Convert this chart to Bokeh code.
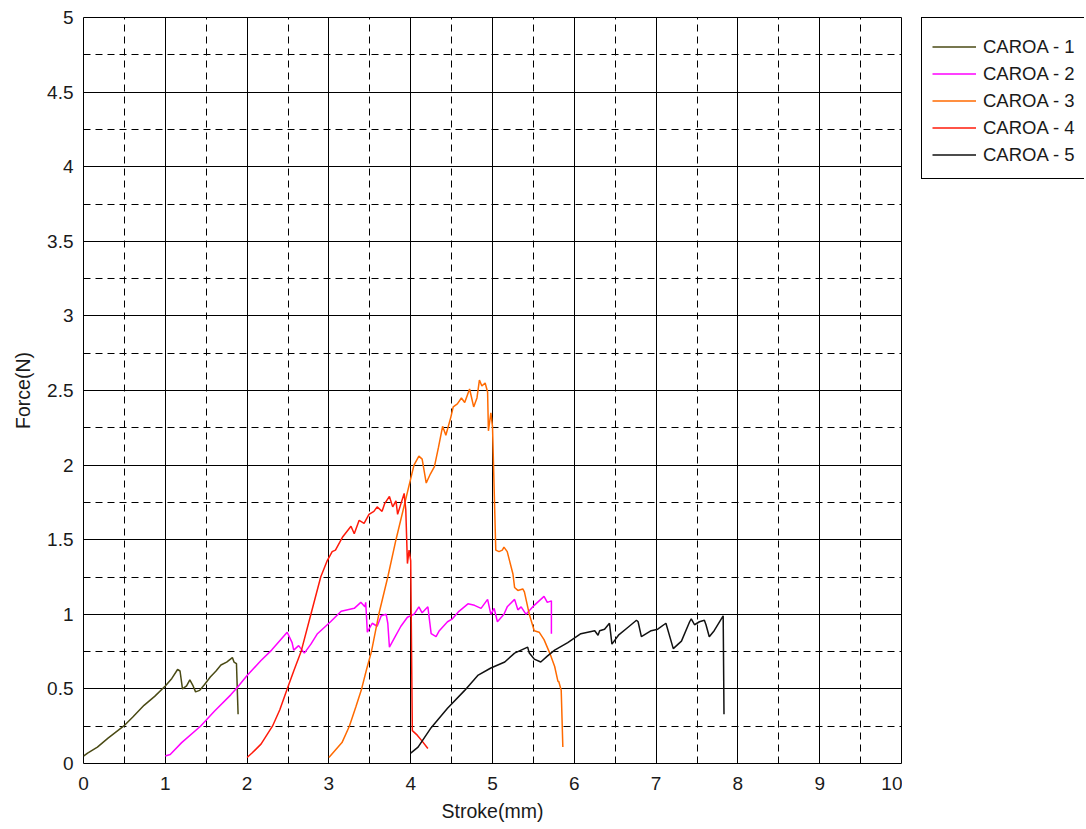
from bokeh.plotting import figure
from bokeh.layouts import row
from bokeh.models import (Range1d, SingleIntervalTicker, CustomJSTickFormatter,
                          Legend, LegendItem)
from bokeh.embed import file_html
from bokeh.resources import INLINE

# ---------------- data ----------------
series_names = ["CAROA - 1", "CAROA - 2", "CAROA - 3", "CAROA - 4", "CAROA - 5"]

x1 = [0.0, 0.05, 0.17, 0.30, 0.49, 0.60, 0.74, 0.87, 1.00, 1.08, 1.15, 1.18, 1.21, 1.26,
      1.30, 1.34, 1.37, 1.42, 1.48, 1.55, 1.62, 1.68, 1.75, 1.82, 1.84, 1.87, 1.89]
y1 = [0.05, 0.07, 0.11, 0.17, 0.25, 0.31, 0.39, 0.45, 0.52, 0.57, 0.63, 0.62, 0.50, 0.52,
      0.56, 0.52, 0.48, 0.49, 0.53, 0.58, 0.62, 0.66, 0.68, 0.71, 0.68, 0.67, 0.33]

x2 = [1.00, 1.06, 1.20, 1.43, 1.60, 1.80, 1.88, 2.00, 2.17, 2.30, 2.49, 2.55, 2.57, 2.63,
      2.70, 2.78, 2.86, 3.02, 3.15, 3.31, 3.39, 3.44, 3.45, 3.47, 3.53, 3.59, 3.64, 3.70,
      3.72, 3.74, 3.81, 3.88, 3.96, 4.04, 4.10, 4.14, 4.21, 4.25, 4.31, 4.35, 4.45, 4.51,
      4.59, 4.70, 4.78, 4.86, 4.94, 4.98, 5.02, 5.06, 5.14, 5.18, 5.27, 5.31, 5.35, 5.41,
      5.51, 5.63, 5.67, 5.72, 5.72]
y2 = [0.05, 0.06, 0.14, 0.25, 0.35, 0.46, 0.51, 0.59, 0.69, 0.76, 0.88, 0.81, 0.76, 0.79,
      0.74, 0.80, 0.87, 0.95, 1.02, 1.04, 1.08, 1.05, 1.08, 0.88, 0.94, 0.92, 0.99, 1.00,
      0.94, 0.78, 0.85, 0.92, 0.98, 1.00, 1.05, 1.01, 1.05, 0.87, 0.85, 0.89, 0.95, 0.97,
      1.02, 1.07, 1.06, 1.04, 1.10, 1.00, 1.04, 0.95, 1.00, 1.05, 1.10, 1.03, 1.05, 1.00,
      1.06, 1.12, 1.08, 1.09, 0.87]

x3 = [3.00, 3.08, 3.16, 3.25, 3.33, 3.40, 3.46, 3.52, 3.61, 3.72, 3.82, 3.93, 4.04, 4.10,
      4.14, 4.19, 4.24, 4.29, 4.34, 4.39, 4.43, 4.49, 4.52, 4.57, 4.62, 4.66, 4.72, 4.77,
      4.81, 4.84, 4.87, 4.91, 4.94, 4.95, 4.98, 5.00, 5.04, 5.08, 5.12, 5.14, 5.18, 5.25,
      5.27, 5.31, 5.37, 5.39, 5.45, 5.51, 5.57, 5.63, 5.70, 5.76, 5.80, 5.81, 5.84, 5.86]
y3 = [0.04, 0.09, 0.14, 0.25, 0.38, 0.50, 0.63, 0.75, 1.00, 1.25, 1.50, 1.75, 2.00, 2.06,
      2.04, 1.88, 1.94, 1.99, 2.12, 2.26, 2.20, 2.32, 2.39, 2.41, 2.45, 2.42, 2.51, 2.39,
      2.45, 2.57, 2.53, 2.55, 2.49, 2.23, 2.35, 2.26, 1.43, 1.42, 1.43, 1.45, 1.42, 1.27,
      1.18, 1.16, 1.17, 1.15, 1.00, 0.89, 0.88, 0.83, 0.74, 0.65, 0.55, 0.55, 0.49, 0.11]

x4 = [2.00, 2.06, 2.17, 2.31, 2.40, 2.49, 2.57, 2.66, 2.78, 2.90, 2.98, 3.04, 3.08, 3.17,
      3.27, 3.31, 3.37, 3.43, 3.49, 3.55, 3.59, 3.65, 3.68, 3.74, 3.78, 3.82, 3.84, 3.88,
      3.92, 3.94, 3.96, 3.98, 4.00, 4.02, 4.08, 4.14, 4.21]
y4 = [0.04, 0.07, 0.13, 0.25, 0.36, 0.50, 0.62, 0.75, 1.00, 1.25, 1.36, 1.42, 1.43, 1.52,
      1.59, 1.54, 1.63, 1.61, 1.67, 1.69, 1.72, 1.69, 1.74, 1.79, 1.72, 1.76, 1.67, 1.74,
      1.81, 1.70, 1.34, 1.43, 1.36, 0.22, 0.19, 0.15, 0.10]

x5 = [4.00, 4.09, 4.25, 4.45, 4.66, 4.82, 4.98, 5.15, 5.27, 5.43, 5.45, 5.51, 5.59, 5.67,
      5.76, 5.92, 6.08, 6.25, 6.29, 6.31, 6.37, 6.43, 6.46, 6.54, 6.65, 6.76, 6.78, 6.82,
      6.94, 7.02, 7.12, 7.21, 7.31, 7.41, 7.43, 7.47, 7.53, 7.59, 7.61, 7.65, 7.71, 7.82, 7.83]
y5 = [0.07, 0.11, 0.24, 0.37, 0.49, 0.59, 0.64, 0.68, 0.74, 0.78, 0.74, 0.70, 0.68, 0.72,
      0.76, 0.81, 0.87, 0.89, 0.86, 0.89, 0.90, 0.94, 0.80, 0.86, 0.91, 0.96, 0.95, 0.85,
      0.89, 0.90, 0.94, 0.77, 0.82, 0.95, 0.97, 0.93, 0.95, 0.96, 0.93, 0.85, 0.89, 0.99, 0.33]

colors = ["#4a4a14", "#ff00ff", "#ff6a00", "#ff1a0a", "#111111"]

# ---------------- main plot ----------------
FONT = "Liberation Sans"
H = 827

p = figure(width=902, height=H, output_backend="svg", toolbar_location=None,
           x_range=Range1d(0, 10), y_range=Range1d(0, 5),
           min_border_left=83, min_border_right=1, min_border_top=17, min_border_bottom=64)
p.background_fill_color = "white"
p.border_fill_color = "white"
p.outline_line_color = "black"
p.outline_line_width = 1

xt = SingleIntervalTicker(interval=1, num_minor_ticks=2)
yt = SingleIntervalTicker(interval=0.5, num_minor_ticks=2)
p.xaxis.ticker = xt
p.yaxis.ticker = yt
p.xgrid.ticker = xt
p.ygrid.ticker = yt

fmt = CustomJSTickFormatter(code="return String(Math.round(tick*100)/100);")
for ax in (p.xaxis[0], p.yaxis[0]):
    ax.formatter = fmt
    ax.axis_line_color = None
    ax.major_tick_line_color = None
    ax.minor_tick_line_color = None
    ax.major_tick_out = 0
    ax.major_tick_in = 0
    ax.minor_tick_out = 0
    ax.minor_tick_in = 0
    ax.major_label_text_font = FONT
    ax.major_label_text_font_size = "19px"
    ax.major_label_text_color = "#1a1a1a"
    ax.axis_label_text_font = FONT
    ax.axis_label_text_font_size = "19.5px"
    ax.axis_label_text_font_style = "normal"
    ax.axis_label_text_color = "#1a1a1a"

p.xaxis.major_label_standoff = 13
p.yaxis.major_label_standoff = 10
p.xaxis.axis_label = "Stroke(mm)"
p.xaxis.axis_label_standoff = 7
p.yaxis.axis_label = "Force(N)"
p.yaxis.axis_label_standoff = 10

for g in (p.xgrid[0], p.ygrid[0]):
    g.grid_line_color = "black"
    g.grid_line_width = 1
    g.grid_line_alpha = 1
    g.minor_grid_line_color = "black"
    g.minor_grid_line_width = 1
    g.minor_grid_line_dash = "7 5"

xs = [x1, x2, x3, x4, x5]
ys = [y1, y2, y3, y4, y5]
for xx, yy, c in zip(xs, ys, colors):
    p.line(xx, yy, line_color=c, line_width=1.5)

# ---------------- legend panel (ranges chosen so the series stay out of view) ----------------
q = figure(width=182, height=H, output_backend="svg", toolbar_location=None,
           x_axis_type=None, y_axis_type=None,
           x_range=Range1d(100, 101), y_range=Range1d(100, 101),
           min_border_left=0, min_border_right=0, min_border_top=17, min_border_bottom=64)
q.outline_line_color = None
q.xgrid.visible = False
q.ygrid.visible = False
q.background_fill_color = "white"
q.border_fill_color = "white"

items = []
for name, xx, yy, c in zip(series_names, xs, ys, colors):
    r = q.line(xx, yy, line_color=c, line_width=1.5)
    items.append(LegendItem(label=name, renderers=[r]))

legend = Legend(items=items, location=(19, 584), padding=10, spacing=0,
                label_height=27, glyph_height=27, glyph_width=44, label_standoff=7,
                label_text_font=FONT, label_text_font_size="18.5px",
                label_text_color="#1a1a1a",
                border_line_color="black", border_line_width=1, border_line_alpha=1,
                background_fill_color="white", background_fill_alpha=1,
                title=" ", title_text_font_size="4px", title_standoff=0,
                margin=0)
q.add_layout(legend)

layout = row(p, q, spacing=0)
open("out.html", "w").write(file_html(layout, INLINE))
